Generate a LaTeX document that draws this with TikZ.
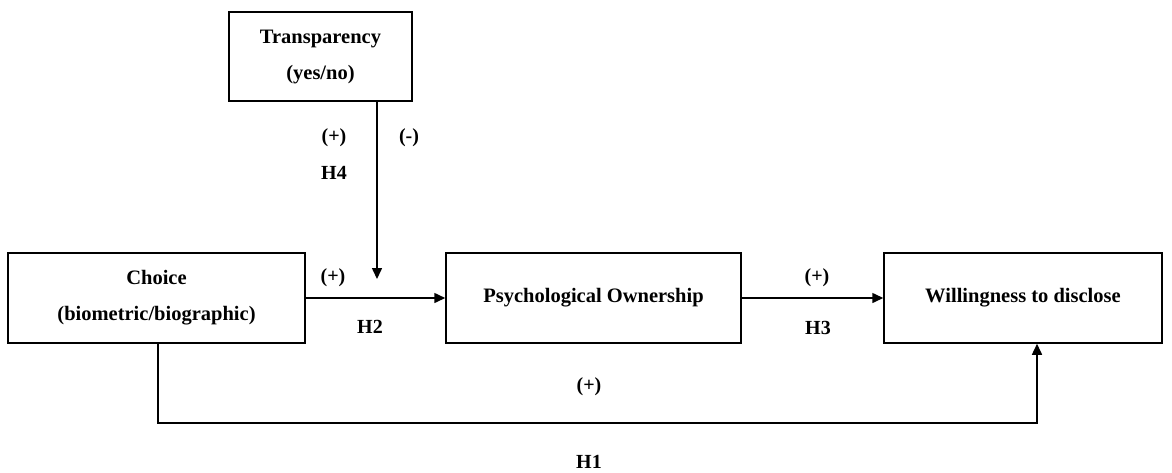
\documentclass[tikz,border=0pt]{standalone}
\usepackage{fontspec}
\setmainfont{Liberation Serif}
\usetikzlibrary{arrows.meta}
\begin{document}
\begin{tikzpicture}[x=1pt,y=-1pt,
  box/.style={draw,line width=1.5pt,inner sep=0pt,align=center,
    font=\bfseries\fontsize{20.5}{36}\selectfont},
  lbl/.style={inner sep=0pt,font=\bfseries\fontsize{20}{24}\selectfont},
  arr/.style={line width=1.5pt,-{Triangle[length=11pt,width=10pt]}}]
\useasboundingbox[fill=white] (0,0) rectangle (1172,472);
\node[box,minimum width=183pt,minimum height=89pt] (trans) at (320.5,56.5) {Transparency\\(yes/no)};
\node[box,minimum width=297pt,minimum height=90pt] (choice) at (156.5,298) {Choice\\(biometric/biographic)};
\node[box,minimum width=295pt,minimum height=90pt] (psych) at (593.5,298) {Psychological Ownership};
\node[box,minimum width=278pt,minimum height=90pt] (will) at (1023,298) {Willingness to disclose};
\coordinate (m) at (377,279);
\coordinate (c1) at (158,423);
\coordinate (c2) at (1037,423);
\draw[arr] (trans.south -| m) -- (m);
\draw[arr] (choice.east) -- (psych.west);
\draw[arr] (psych.east) -- (will.west);
\draw[arr] (choice.south -| c1) -- (c1) -- (c2) -- (will.south -| c2);
\node[lbl] (l4a) at (334,138) {(+)};
\node[lbl] (l4b) at (409,138) {(-)};
\node[lbl] (h4) at (334,173) {H4};
\node[lbl] (l2) at (333,278) {(+)};
\node[lbl] (h2) at (370,327) {H2};
\node[lbl] (l3) at (817,278) {(+)};
\node[lbl] (h3) at (818,328) {H3};
\node[lbl] (l1) at (589,387) {(+)};
\node[lbl] (h1) at (589,462) {H1};
\end{tikzpicture}
\end{document}
